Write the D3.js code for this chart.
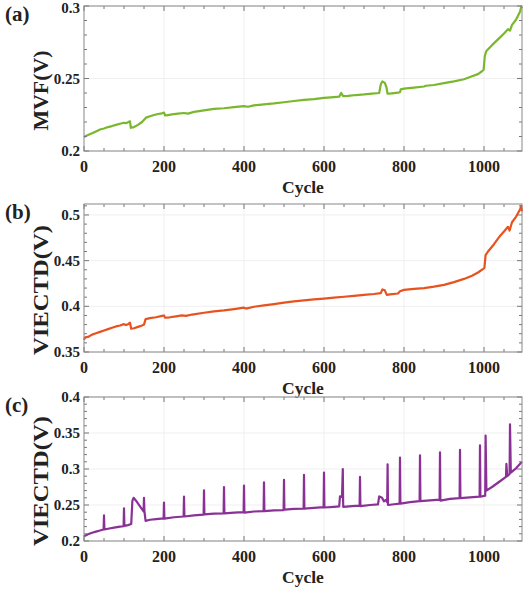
<!DOCTYPE html>
<html>
<head>
<meta charset="utf-8">
<script src="https://cdn.jsdelivr.net/npm/d3@7"></script>
<style>
  body { margin: 0; background: #fff; }
  text { font-family: "Liberation Serif", "Times New Roman", serif; font-weight: bold; fill: #222; }
</style>
</head>
<body>
<svg id="chart" width="523" height="589"></svg>
<script>
// Data: [cycle, voltage]
const mvfPoints = [[0,0.2095],[5,0.2105],[10,0.2110],[20,0.2122],[30,0.2135],[40,0.2148],[50,0.2155],[60,0.2165],[70,0.2172],[80,0.2180],[90,0.2188],[100,0.2195],[105,0.2192],[110,0.2198],[115,0.2205],[117,0.2160],[125,0.2165],[135,0.2180],[145,0.2200],[155,0.2230],[165,0.2240],[175,0.2248],[185,0.2255],[195,0.2260],[200,0.2265],[203,0.2245],[210,0.2248],[220,0.2252],[235,0.2258],[250,0.2262],[260,0.2258],[275,0.2270],[300,0.2280],[325,0.2290],[350,0.2295],[375,0.2302],[400,0.2310],[410,0.2305],[425,0.2315],[450,0.2322],[475,0.2328],[500,0.2336],[525,0.2345],[550,0.2352],[575,0.2358],[600,0.2366],[625,0.2372],[638,0.2375],[643,0.2400],[648,0.2378],[660,0.2380],[680,0.2386],[700,0.2390],[720,0.2396],[738,0.2400],[742,0.2460],[746,0.2480],[752,0.2470],[756,0.2440],[759,0.2395],[770,0.2398],[785,0.2402],[790,0.2405],[792,0.2425],[800,0.2430],[825,0.2437],[850,0.2445],[855,0.2450],[875,0.2455],[900,0.2468],[925,0.2480],[950,0.2495],[970,0.2515],[985,0.2530],[995,0.2550],[999,0.2560],[1002,0.2655],[1006,0.2690],[1020,0.2730],[1035,0.2770],[1050,0.2810],[1060,0.2840],[1065,0.2830],[1070,0.2870],[1080,0.2905],[1090,0.2960],[1093,0.2995],[1095,0.2985]];

const viectdPoints = [[0,0.3635],[3,0.3660],[10,0.3665],[20,0.3690],[30,0.3705],[40,0.3720],[50,0.3735],[60,0.3750],[70,0.3765],[80,0.3780],[90,0.3790],[100,0.3805],[105,0.3795],[110,0.3805],[115,0.3820],[118,0.3755],[125,0.3760],[135,0.3775],[145,0.3790],[150,0.3800],[154,0.3860],[165,0.3870],[180,0.3880],[195,0.3895],[200,0.3900],[203,0.3875],[215,0.3880],[230,0.3890],[245,0.3900],[255,0.3895],[270,0.3910],[300,0.3930],[325,0.3945],[350,0.3955],[375,0.3970],[400,0.3985],[405,0.3975],[425,0.3995],[450,0.4010],[475,0.4025],[500,0.4040],[525,0.4055],[550,0.4065],[575,0.4075],[600,0.4085],[625,0.4095],[650,0.4105],[675,0.4115],[700,0.4125],[725,0.4135],[742,0.4145],[746,0.4185],[752,0.4175],[757,0.4125],[765,0.4130],[785,0.4140],[790,0.4165],[800,0.4180],[825,0.4190],[850,0.4200],[875,0.4215],[900,0.4235],[925,0.4265],[950,0.4300],[970,0.4335],[985,0.4370],[998,0.4410],[1001,0.4420],[1004,0.4560],[1010,0.4600],[1025,0.4680],[1040,0.4770],[1050,0.4820],[1060,0.4870],[1064,0.4830],[1070,0.4920],[1080,0.4980],[1090,0.5060],[1093,0.5100],[1095,0.5040]];

const viectdPulsePoints = [[0,0.2065],[10,0.2095],[20,0.2115],[30,0.2130],[40,0.2145],[49,0.2160],[50,0.2355],[51,0.2160],[60,0.2170],[75,0.2185],[90,0.2200],[99,0.2205],[100,0.2455],[101,0.2210],[110,0.2220],[118,0.2235],[121,0.2560],[124,0.2600],[130,0.2560],[140,0.2480],[149,0.2410],[150,0.2600],[151,0.2420],[154,0.2280],[165,0.2295],[180,0.2305],[199,0.2315],[200,0.2535],[201,0.2310],[225,0.2330],[249,0.2340],[250,0.2615],[251,0.2340],[275,0.2355],[299,0.2365],[300,0.2705],[301,0.2370],[325,0.2380],[349,0.2385],[350,0.2750],[351,0.2385],[375,0.2395],[399,0.2400],[400,0.2770],[401,0.2395],[425,0.2410],[449,0.2415],[450,0.2815],[451,0.2415],[475,0.2425],[499,0.2430],[500,0.2850],[501,0.2435],[525,0.2445],[549,0.2450],[550,0.2920],[551,0.2450],[575,0.2460],[599,0.2470],[600,0.2950],[601,0.2465],[625,0.2475],[638,0.2480],[640,0.2620],[645,0.2610],[647,0.3000],[648,0.2475],[670,0.2485],[689,0.2490],[690,0.2890],[691,0.2485],[715,0.2500],[735,0.2510],[738,0.2620],[745,0.2600],[750,0.2550],[755,0.2570],[758,0.2540],[759,0.3065],[760,0.2500],[775,0.2510],[789,0.2520],[790,0.3160],[791,0.2520],[815,0.2540],[839,0.2555],[840,0.3190],[841,0.2555],[865,0.2565],[889,0.2575],[890,0.3230],[891,0.2560],[915,0.2585],[939,0.2595],[940,0.3265],[941,0.2595],[965,0.2605],[989,0.2615],[990,0.3330],[991,0.2615],[1003,0.2630],[1004,0.3465],[1006,0.2700],[1020,0.2750],[1040,0.2830],[1055,0.2890],[1056,0.3070],[1058,0.2900],[1064,0.2930],[1065,0.3620],[1067,0.2950],[1080,0.3010],[1095,0.3100]];

const xTicks = [0, 200, 400, 600, 800, 1000];
const yTicksA = [0.2, 0.25, 0.3];
const yTicksB = [0.35, 0.4, 0.45, 0.5];
const yTicksC = [0.2, 0.25, 0.3, 0.35, 0.4];

const panels = [
    { tag: "(a)", label: "MVF(V)", data: mvfPoints, color: "#79b72d", domain: [0.2, 0.3], top: 6, bottom: 151, ticks: yTicksA, labelLen: 80 },
    { tag: "(b)", label: "VIECTD(V)", data: viectdPoints, color: "#e8521e", domain: [0.35, 0.512], top: 204, bottom: 352, ticks: yTicksB, labelLen: 130 },
    { tag: "(c)", label: "VIECTD(V)", data: viectdPulsePoints, color: "#8a3196", domain: [0.2, 0.4], top: 397, bottom: 541, ticks: yTicksC, labelLen: 130 }
];

var left = 84, right = 522;
var svg = d3.select("#chart");

var x = d3.scaleLinear().domain([0, 1095]).range([left, right]);
var xMinor = d3.range(0, 1095, 50);

panels.forEach(function (p) {
    var y = d3.scaleLinear().domain(p.domain).range([p.bottom, p.top]);
    var g = svg.append("g");
    var yMinor = d3.range(Math.round(p.domain[0] * 100), Math.floor(p.domain[1] * 100 + 0.001) + 1).map(d => d / 100);

    // grid
    g.selectAll(".gx").data(xTicks.slice(1)).enter().append("line")
        .attr("x1", d => x(d)).attr("x2", d => x(d))
        .attr("y1", p.top).attr("y2", p.bottom)
        .attr("stroke", "#ebebeb").attr("stroke-width", 0.8);
    g.selectAll(".gy").data(p.ticks).enter().append("line")
        .attr("x1", left).attr("x2", right)
        .attr("y1", d => y(d)).attr("y2", d => y(d))
        .attr("stroke", "#ebebeb").attr("stroke-width", 0.8);

    // series
    var line = d3.line().x(d => x(d[0])).y(d => y(d[1]));
    g.append("path")
        .datum(p.data)
        .attr("d", line)
        .attr("fill", "none")
        .attr("stroke", p.color)
        .attr("stroke-width", 2.2)
        .attr("stroke-linejoin", "round");

    // ticks, inward on all four sides
    var tickColor = "#777";
    xMinor.forEach(function (t) {
        var len = (t % 200 === 0) ? 5 : 3;
        g.append("line").attr("x1", x(t)).attr("x2", x(t)).attr("y1", p.bottom).attr("y2", p.bottom - len).attr("stroke", tickColor);
        g.append("line").attr("x1", x(t)).attr("x2", x(t)).attr("y1", p.top).attr("y2", p.top + len).attr("stroke", tickColor);
    });
    yMinor.forEach(function (t) {
        var len = p.ticks.some(m => Math.abs(m - t) < 1e-6) ? 5 : 3;
        g.append("line").attr("x1", left).attr("x2", left + len).attr("y1", y(t)).attr("y2", y(t)).attr("stroke", tickColor);
        g.append("line").attr("x1", right).attr("x2", right - len).attr("y1", y(t)).attr("y2", y(t)).attr("stroke", tickColor);
    });

    // frame
    g.append("rect")
        .attr("x", left).attr("y", p.top)
        .attr("width", right - left).attr("height", p.bottom - p.top)
        .attr("fill", "none").attr("stroke", "#888").attr("stroke-width", 1);

    // tick labels
    g.selectAll(".xl").data(xTicks).enter().append("text")
        .attr("x", d => x(d)).attr("y", p.bottom + 21)
        .attr("text-anchor", "middle")
        .style("font-size", "16px")
        .text(d => d);
    g.selectAll(".yl").data(p.ticks).enter().append("text")
        .attr("x", left - 4).attr("y", d => Math.max(y(d) + 5, 13))
        .attr("text-anchor", "end")
        .style("font-size", "15px")
        .text(d => d);

    // axis titles
    g.append("text")
        .attr("x", (left + right) / 2).attr("y", p.bottom + 42)
        .attr("text-anchor", "middle")
        .style("font-size", "17.5px")
        .text("Cycle");
    g.append("text")
        .attr("transform", `translate(48, ${(p.top + p.bottom) / 2 + 12}) rotate(-90)`)
        .attr("text-anchor", "middle")
        .attr("textLength", p.labelLen)
        .attr("lengthAdjust", "spacingAndGlyphs")
        .style("font-size", "20px")
        .text(p.label);

    // panel tag
    g.append("text")
        .attr("x", 5).attr("y", p.top + 15)
        .style("font-size", "21px")
        .text(p.tag);
});
</script>
</body>
</html>
